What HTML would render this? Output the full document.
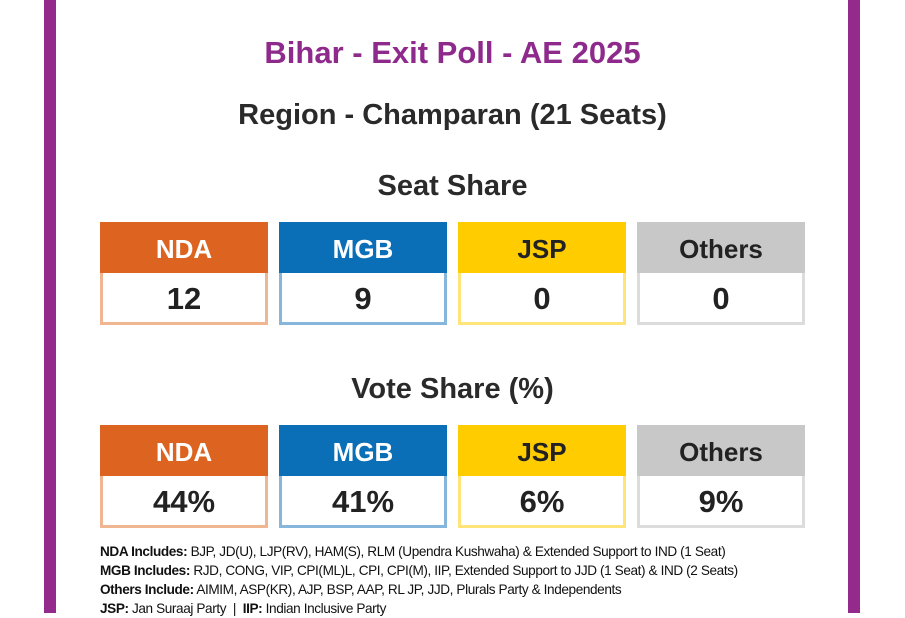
<!DOCTYPE html>
<html><head><meta charset="utf-8"><style>
body{margin:0;width:905px;height:613px;background:#fff;position:relative;overflow:hidden;font-family:"Liberation Sans",sans-serif}
.bar{position:absolute;top:0;width:12px;height:613px;background:#952a8d}
.t{position:absolute;left:0;width:905px;text-align:center;font-weight:bold;white-space:nowrap}
.box{position:absolute;width:168px}
.hd{height:51px;line-height:54px;text-align:center;color:#fff;font-weight:bold;font-size:26px}
.vl{height:49px;line-height:52px;text-align:center;background:#fff;font-weight:bold;font-size:31px;color:#222;border:3px solid;border-top:none}
.notes{position:absolute;left:100px;top:542px;font-size:13.6px;line-height:19px;color:#111;letter-spacing:-0.4px;white-space:nowrap}
</style></head><body>
<div class="bar" style="left:44px"></div>
<div class="bar" style="left:848px"></div>
<div class="t" style="top:35px;font-size:31px;color:#8e2a8b">Bihar - Exit Poll - AE 2025</div>
<div class="t" style="top:99px;font-size:29px;color:#2a2a2a">Region - Champaran (21 Seats)</div>
<div class="t" style="top:170px;font-size:29px;color:#2a2a2a">Seat Share</div>
<div class="t" style="top:373px;font-size:29px;color:#2a2a2a">Vote Share (%)</div>
<div id="cards"></div>
<div class="notes">
<div><b>NDA Includes:</b> BJP, JD(U), LJP(RV), HAM(S), RLM (Upendra Kushwaha) &amp; Extended Support to IND (1 Seat)</div>
<div><b>MGB Includes:</b> RJD, CONG, VIP, CPI(ML)L, CPI, CPI(M), IIP, Extended Support to JJD (1 Seat) &amp; IND (2 Seats)</div>
<div><b>Others Include:</b> AIMIM, ASP(KR), AJP, BSP, AAP, RL JP, JJD, Plurals Party &amp; Independents</div>
<div><b>JSP:</b> Jan Suraaj Party &nbsp;|&nbsp; <b>IIP:</b> Indian Inclusive Party</div>
</div>
<script>
const parties=["NDA","MGB","JSP","Others"];
const seats=[12,9,0,0];
const votes=[44,41,6,9];
const head=["#dd6420","#0b6fb8","#ffcc00","#c8c8c8"];
const headTxt=["#fff","#fff","#222","#222"];
const brd=["#f0b591","#86b6dc","#ffe47a","#dcdcdc"];
const c=document.getElementById('cards');
function row(vals,top,suffix,nm){
  parties.forEach((p,i)=>{
    const b=document.createElement('div');b.className='box';
    
    
    b.style.left=(100+i*179)+'px';b.style.top=top+'px';
    b.innerHTML='<div class="hd" style="background:'+head[i]+';color:'+headTxt[i]+'">'+p+'</div><div class="vl" style="border-color:'+brd[i]+'">'+vals[i]+suffix+'</div>';
    c.appendChild(b);
  });
}
row(seats,222,'','seat');
row(votes,425,'%','vote');
</script>
</body></html>
